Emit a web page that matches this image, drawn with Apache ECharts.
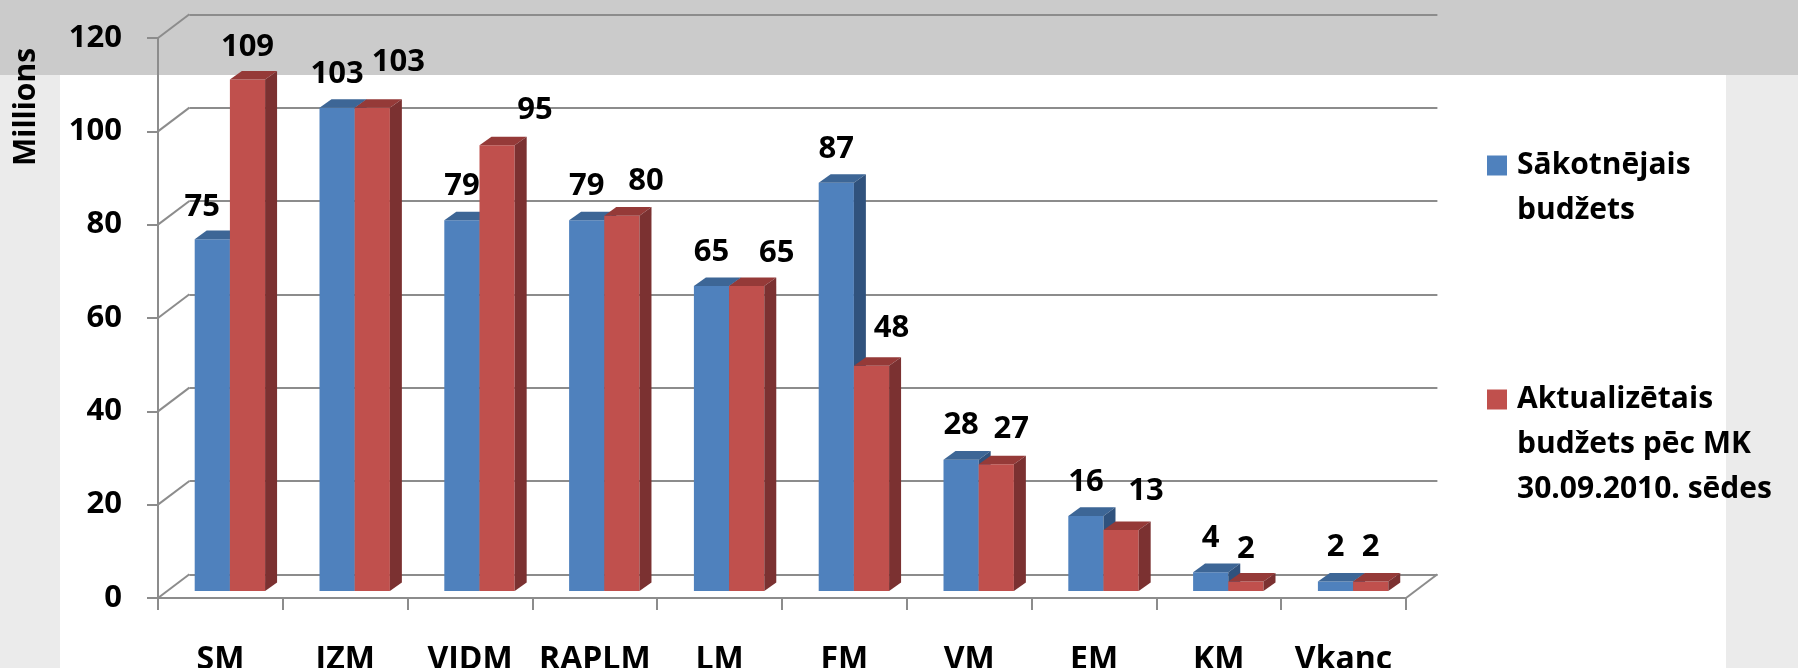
<!DOCTYPE html>
<html><head><meta charset="utf-8">
<script src="https://cdn.jsdelivr.net/npm/echarts@6/dist/echarts.min.js"></script>
<style>html,body{margin:0;padding:0;background:#fff}#c{width:1798px;height:668px}</style>
</head><body><div id="c"></div>
<script>
// ---- data ----
const categories = ['SM', 'IZM', 'VIDM', 'RAPLM', 'LM', 'FM', 'VM', 'EM', 'KM', 'Vkanc'];
const initialBudget = [75, 103, 79, 79, 65, 87, 28, 16, 4, 2];
const updatedBudget = [109, 103, 95, 80, 65, 48, 27, 13, 2, 2];
const yTicks = [0, 20, 40, 60, 80, 100, 120];
const seriesNames = ['Sākotnējais budžets', 'Aktualizētais budžets pēc MK 30.09.2010. sēdes'];
const legendLines = {
  'Sākotnējais budžets': 'Sākotnējais\nbudžets',
  'Aktualizētais budžets pēc MK 30.09.2010. sēdes': 'Aktualizētais\nbudžets pēc MK\n30.09.2010. sēdes'
};
const yTitle = 'Millions';

// ---- layout / style (not data) ----
const initialLabelNudge = [[-10, 2], [0, 0], [0, 0], [0, 0], [0, 0], [0, 0], [0, 0], [0, 0], [0, 0], [0, 0]];
const updatedLabelNudge = [[0, 2], [26, -12], [38, -1], [24, 0], [30, 1], [20, -4], [15, -1], [25, -5], [0, 2], [0, 0]];
const FONT = '"Open Sans", "Noto Sans", sans-serif';
const GRIDC = '#8C8C8C';
const front = {left: 158, top: 38, width: 1248, height: 560};
const DX = 31.4, DY = 23.7;
const back = {left: front.left + DX, top: front.top - DY, width: front.width, height: front.height};
const barGrid = {left: front.left + 9.5, top: 28, width: front.width, height: 563};

function barRenderer(side, colors, nudges) {
  return function (params, api) {
    const i = api.value(0), v = api.value(1);
    const band = api.size([1, 0])[0];
    const c = api.coord([i, v]);
    const b = api.coord([i, 0]);
    const w = band * 0.282, dx = band * 0.096, dy = band * 0.069;
    const x0 = side < 0 ? c[0] - w : c[0];
    const top = c[1], bot = b[1];
    const n = nudges[params.dataIndex];
    return {
      type: 'group',
      children: [
        {type: 'rect', shape: {x: x0, y: top, width: w, height: bot - top}, style: {fill: colors[0]}},
        {type: 'polygon', shape: {points: [[x0, top], [x0 + dx, top - dy], [x0 + w + dx, top - dy], [x0 + w, top]]}, style: {fill: colors[1]}},
        {type: 'polygon', shape: {points: [[x0 + w, top], [x0 + w + dx, top - dy], [x0 + w + dx, bot - dy], [x0 + w, bot]]}, style: {fill: colors[2]}},
        {type: 'text', x: x0 + w / 2 + n[0], y: top - 34 + n[1], z2: 20,
          style: {text: String(v), fill: '#000', font: 'bold 31px ' + FONT, align: 'center', verticalAlign: 'middle'}}
      ]
    };
  };
}

// legend text: pad with empty lines above so the first line sits level with the swatch
function legendText(name) {
  const t = legendLines[name];
  const n = t.split('\n').length;
  return '\n'.repeat(n - 1) + t;
}

const gridBase = {containLabel: false, outerBoundsMode: 'none'};

const chart = echarts.init(document.getElementById('c'), null, {renderer: 'canvas'});
const option = {
  animation: false,
  backgroundColor: '#ffffff',
  graphic: [
    {type: 'rect', z: -10, silent: true, shape: {x: 0, y: 0, width: 1798, height: 75}, style: {fill: '#CBCBCB'}},
    {type: 'rect', z: -10, silent: true, shape: {x: 0, y: 75, width: 60, height: 593}, style: {fill: '#EBEBEB'}},
    {type: 'rect', z: -10, silent: true, shape: {x: 1726, y: 75, width: 72, height: 593}, style: {fill: '#EBEBEB'}},
    {type: 'text', x: 26, y: 107, rotation: Math.PI / 2, silent: true,
      style: {text: yTitle, fill: '#000', font: 'bold 30px ' + FONT, align: 'center', verticalAlign: 'middle'}}
  ],
  legend: {
    orient: 'vertical', left: 1482, top: 93, itemWidth: 20, itemHeight: 20, itemGap: 54,
    icon: 'rect', selectedMode: false,
    data: seriesNames,
    formatter: legendText,
    textStyle: {fontFamily: FONT, fontWeight: 'bold', fontSize: 30, lineHeight: 45, color: '#000', padding: [0, 0, 0, 5]}
  },
  grid: [
    Object.assign({}, gridBase, front),
    Object.assign({}, gridBase, back),
    Object.assign({}, gridBase, barGrid)
  ],
  xAxis: [
    {gridIndex: 0, type: 'category', data: categories, boundaryGap: true,
      axisLine: {show: true, lineStyle: {color: GRIDC, width: 2}},
      axisTick: {show: true, length: 12, alignWithLabel: false, lineStyle: {color: GRIDC, width: 2}},
      axisLabel: {interval: 0, margin: 46, color: '#000', fontFamily: FONT, fontWeight: 'bold', fontSize: 32},
      splitLine: {show: false}},
    {gridIndex: 1, type: 'category', data: categories, show: false},
    {gridIndex: 2, type: 'category', data: categories, show: false}
  ],
  yAxis: [
    {gridIndex: 0, type: 'value', min: 0, max: 120, interval: 20,
      axisLine: {show: true, lineStyle: {color: GRIDC, width: 2}},
      axisTick: {show: true, length: 11, lineStyle: {color: GRIDC, width: 2}},
      axisLabel: {margin: 36, color: '#000', fontFamily: FONT, fontWeight: 'bold', fontSize: 31},
      splitLine: {show: false}},
    {gridIndex: 1, type: 'value', min: 0, max: 120, interval: 20,
      axisLine: {show: false}, axisTick: {show: false}, axisLabel: {show: false},
      splitLine: {show: true, lineStyle: {color: GRIDC, width: 2}}},
    {gridIndex: 2, type: 'value', min: 0, max: 120, show: false, splitLine: {show: false}}
  ],
  series: [
    {type: 'custom', name: '_connectors', xAxisIndex: 0, yAxisIndex: 0, silent: true,
      data: yTicks.map(v => [0, v]),
      renderItem: function (params, api) {
        const c = api.coord([0, api.value(1)]);
        const band = api.size([1, 0])[0];
        const x = c[0] - band / 2;
        return {type: 'line', shape: {x1: x, y1: c[1], x2: x + DX, y2: c[1] - DY}, style: {stroke: GRIDC, lineWidth: 2}};
      }},
    {type: 'custom', name: '_floorEdge', xAxisIndex: 0, yAxisIndex: 0, silent: true,
      data: [[categories.length - 1, 0]],
      renderItem: function (params, api) {
        const c = api.coord([api.value(0), 0]);
        const band = api.size([1, 0])[0];
        const x = c[0] + band / 2;
        return {type: 'line', shape: {x1: x, y1: c[1], x2: x + DX, y2: c[1] - DY}, style: {stroke: GRIDC, lineWidth: 2}};
      }},
    {type: 'custom', name: seriesNames[0], xAxisIndex: 2, yAxisIndex: 2, z: 3,
      itemStyle: {color: '#4F81BD'},
      data: initialBudget.map((v, i) => [i, v]), encode: {x: 0, y: 1},
      renderItem: barRenderer(-1, ['#4F81BD', '#3D6696', '#30527D'], initialLabelNudge)},
    {type: 'custom', name: seriesNames[1], xAxisIndex: 2, yAxisIndex: 2, z: 4,
      itemStyle: {color: '#C0504D'},
      data: updatedBudget.map((v, i) => [i, v]), encode: {x: 0, y: 1},
      renderItem: barRenderer(1, ['#C0504D', '#953A38', '#7B3131'], updatedLabelNudge)}
  ]
};
chart.setOption(option);
</script>
</body></html>
